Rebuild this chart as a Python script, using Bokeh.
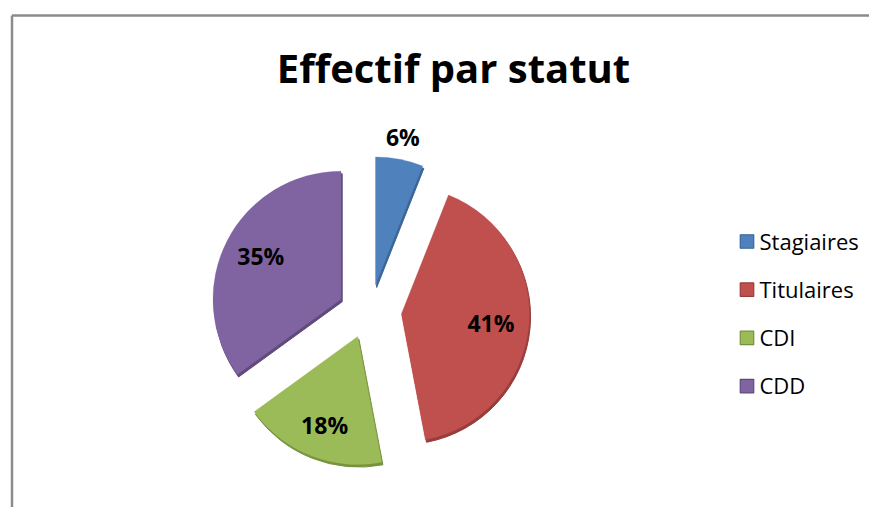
import numpy as np
from bokeh.plotting import figure
from bokeh.models import Range1d, ColumnDataSource
from bokeh.core.properties import value
from bokeh.embed import file_html
from bokeh.resources import INLINE

# ---- data ----
title = "Effectif par statut"
categories = ["Stagiaires", "Titulaires", "CDI", "CDD"]
percents = [6, 41, 18, 35]
colors = ["#4F81BD", "#C0504D", "#9BBB59", "#8064A2"]
edge_colors = ["#3A6596", "#973C3A", "#76923C", "#5F4A7B"]

W, H = 869, 507
p = figure(width=W, height=H, output_backend="svg", toolbar_location=None,
           x_range=Range1d(0, W), y_range=Range1d(0, H), min_border=0)
p.axis.visible = False
p.grid.visible = False
p.outline_line_color = None
p.background_fill_color = "white"
p.border_fill_color = "white"

def px(x):
    return x

def py(y):
    return H - y

FONT = "Open Sans"

# chart border (left & top)
p.line([px(11.5), px(11.5)], [py(600), py(15)], line_color="#8C8C8C", line_width=2.5)
p.line([px(11.5), px(900)], [py(15), py(15)], line_color="#8C8C8C", line_width=2.5)

# title
p.text(x=[px(453)], y=[py(67)], text=[title], text_font=value(FONT),
       text_font_style="bold", text_font_size="40px", text_align="center",
       text_baseline="middle", text_color="black")

# pie
cx, cy = px(369), py(311)
r = 128
dx_exp, dy_exp = 32, 27
vals = np.array(percents, dtype=float)
frac = vals / vals.sum()
cum = np.concatenate([[0], np.cumsum(frac)])
start = np.pi / 2 - 2 * np.pi * cum[:-1]
end = np.pi / 2 - 2 * np.pi * cum[1:]
mid = (start + end) / 2
xs = cx + dx_exp * np.cos(mid)
ys = cy + dy_exp * np.sin(mid)

src = ColumnDataSource(dict(x=xs, y=ys, xs=xs + 1.2, ys=ys - 2.5, start=start, end=end,
                            color=colors, edge=edge_colors))
# bevel / shadow edge
p.wedge(x="xs", y="ys", radius=r, start_angle="start", end_angle="end",
        direction="clock", fill_color="edge", line_color="edge", line_width=1, source=src)
p.wedge(x="x", y="y", radius=r, start_angle="start", end_angle="end",
        direction="clock", fill_color="color", line_color="color", line_width=0.5,
        line_alpha=0.6, source=src)

# data labels
lab_r = np.where(vals < 10, r + 50, 122)
lx = cx + lab_r * np.cos(mid)
ly = cy + lab_r * np.sin(mid)
p.text(x=lx, y=ly, text=[f"{v}%" for v in percents], text_font=value(FONT),
       text_font_style="bold", text_font_size="23px", text_align="center",
       text_baseline="middle", text_color="black")

# legend
n = len(categories)
leg_y = py(241) - np.arange(n) * 48.2
p.rect(x=[px(746.5)] * n, y=leg_y, width=13.5, height=13.5, fill_color=colors,
       line_color=edge_colors, line_width=1.2)
p.text(x=[px(759)] * n, y=leg_y + 1, text=categories, text_font=value(FONT),
       text_font_size="22px", text_align="left", text_baseline="middle",
       text_color="black")

open("out.html", "w").write(file_html(p, INLINE))
